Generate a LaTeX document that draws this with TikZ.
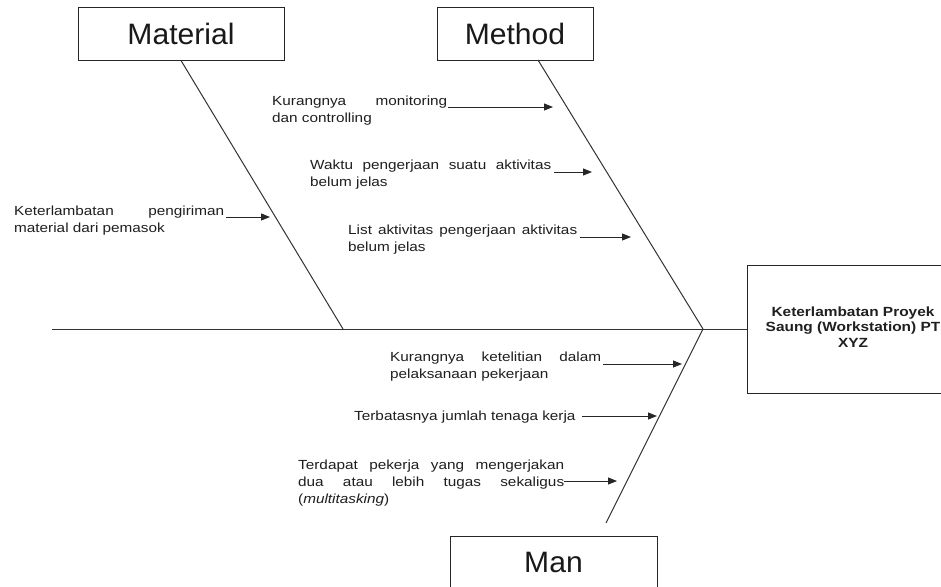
\documentclass[tikz,border=0pt]{standalone}
\usepackage{fontspec}
\setmainfont[FakeStretch=1.16]{Liberation Sans}
\newfontfamily\bigfont[FakeStretch=1.02]{Liberation Sans}
\usetikzlibrary{arrows.meta}
\tikzset{
  bone/.style={line width=1pt, draw=black!80},
  cause/.style={anchor=base west, inner sep=0pt, align=left,
    font=\fontsize{13.2}{17}\selectfont, text=black!88},
  catbox/.style={draw=black!85, line width=1pt, minimum height=52pt, inner sep=0pt,
    font=\bigfont\fontsize{29.5}{35}\selectfont, text=black!90},
  effectbox/.style={draw=black!85, line width=1pt, minimum width=216pt, minimum height=128pt,
    inner sep=0pt, align=center, font=\bfseries\fontsize{13.3}{15.5}\selectfont, text=black!88},
  causearrow/.style={line width=0.9pt, draw=black!85, -{Triangle[length=9pt,width=7pt]}},
}
\begin{document}
\begin{tikzpicture}[x=1pt,y=-1pt]
\useasboundingbox[fill=white] (0,0) rectangle (941,586);

% category boxes
\node[catbox, minimum width=206pt] (mat) at (181,34) {Material};
\node[catbox, minimum width=156pt] (met) at (515,34) {Method};
\node[catbox, minimum width=207pt] (man) at (553.5,562) {Man};
\node[effectbox] (eff) at (855,329) {};
\node[align=center, inner sep=0pt, font=\bfseries\fontsize{13.3}{15.5}\selectfont, text=black!88]
  (efft) at (853,327) {Keterlambatan Proyek\\Saung (Workstation) PT\\XYZ};

% spine and bones
\coordinate (tail) at (52,329);
\coordinate (head) at (703,329);
\coordinate (mj) at (343,329);
\coordinate (mt) at (538,60);
\coordinate (manend) at (606,523);
\draw[bone] (tail) -- (eff.west);
\draw[bone] (mat.south) -- (mj);
\draw[bone] (mt) -- (head);
\draw[bone] (head) -- (manend);

% causes: Material (anchor = baseline of last line)
\node[cause] (c1) at (14,232) {\makebox[210pt][s]{Keterlambatan pengiriman}\\material dari pemasok};
\coordinate (a1s) at (226,217); \coordinate (a1e) at (270,217);
\draw[causearrow] (a1s) -- (a1e);

% causes: Method
\node[cause] (c2) at (272,122) {\makebox[175pt][s]{Kurangnya monitoring}\\dan controlling};
\coordinate (a2s) at (448,107); \coordinate (a2e) at (553,107);
\draw[causearrow] (a2s) -- (a2e);

\node[cause] (c3) at (310,186) {\makebox[241pt][s]{Waktu pengerjaan suatu aktivitas}\\belum jelas};
\coordinate (a3s) at (554,172); \coordinate (a3e) at (592,172);
\draw[causearrow] (a3s) -- (a3e);

\node[cause] (c4) at (348,251) {\makebox[229pt][s]{List aktivitas pengerjaan aktivitas}\\belum jelas};
\coordinate (a4s) at (580,237); \coordinate (a4e) at (631,237);
\draw[causearrow] (a4s) -- (a4e);

% causes: Man
\node[cause] (c5) at (390,378) {\makebox[211pt][s]{Kurangnya ketelitian dalam}\\pelaksanaan pekerjaan};
\coordinate (a5s) at (603,364); \coordinate (a5e) at (682,364);
\draw[causearrow] (a5s) -- (a5e);

\node[cause] (c6) at (354,420.5) {Terbatasnya jumlah tenaga kerja};
\coordinate (a6s) at (582,416); \coordinate (a6e) at (657,416);
\draw[causearrow] (a6s) -- (a6e);

\node[cause] (c7) at (298,503) {\makebox[266pt][s]{Terdapat pekerja yang mengerjakan}\\\makebox[266pt][s]{dua atau lebih tugas sekaligus}\\(\textit{multitasking})};
\coordinate (a7s) at (564,481); \coordinate (a7e) at (617,481);
\draw[causearrow] (a7s) -- (a7e);
\end{tikzpicture}
\end{document}
